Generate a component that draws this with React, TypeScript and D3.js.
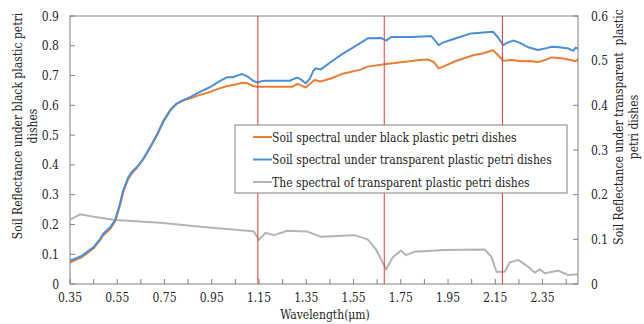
import React from "react";
import * as d3 from "d3";

// Wavelength (µm) sample points and reflectance for each series
const orangeWl = [0.35, 0.4, 0.45, 0.477, 0.49, 0.52, 0.541, 0.56, 0.576, 0.595, 0.612, 0.635, 0.661, 0.69, 0.718, 0.745, 0.775, 0.8, 0.83, 0.86, 0.9, 0.944, 0.98, 1.015, 1.05, 1.079, 1.1, 1.125, 1.143, 1.2, 1.29, 1.313, 1.33, 1.348, 1.37, 1.385, 1.41, 1.454, 1.5, 1.58, 1.61, 1.688, 1.75, 1.83, 1.865, 1.89, 1.91, 1.93, 1.98, 2.06, 2.1, 2.14, 2.16, 2.183, 2.22, 2.26, 2.3, 2.33, 2.36, 2.388, 2.43, 2.47, 2.49, 2.5];
const orangeVal = [0.072, 0.09, 0.12, 0.147, 0.163, 0.185, 0.21, 0.26, 0.31, 0.35, 0.372, 0.392, 0.42, 0.46, 0.502, 0.548, 0.586, 0.605, 0.617, 0.624, 0.635, 0.645, 0.656, 0.665, 0.67, 0.676, 0.674, 0.665, 0.662, 0.662, 0.662, 0.672, 0.666, 0.66, 0.675, 0.685, 0.68, 0.69, 0.705, 0.72, 0.73, 0.739, 0.745, 0.752, 0.754, 0.745, 0.724, 0.73, 0.748, 0.769, 0.775, 0.785, 0.77, 0.75, 0.752, 0.748, 0.749, 0.745, 0.752, 0.761, 0.758, 0.752, 0.748, 0.755];

// Soil under transparent dishes (secondary axis, 0–0.6)
const blueWl = [0.35, 0.4, 0.45, 0.477, 0.49, 0.52, 0.541, 0.56, 0.576, 0.595, 0.612, 0.635, 0.661, 0.69, 0.718, 0.745, 0.775, 0.8, 0.817, 0.86, 0.9, 0.944, 0.98, 1.015, 1.04, 1.06, 1.079, 1.1, 1.125, 1.143, 1.16, 1.18, 1.28, 1.3, 1.313, 1.33, 1.348, 1.365, 1.38, 1.39, 1.41, 1.454, 1.5, 1.58, 1.61, 1.666, 1.688, 1.71, 1.8, 1.879, 1.895, 1.91, 1.93, 1.955, 2.0, 2.048, 2.1, 2.14, 2.16, 2.183, 2.2, 2.225, 2.25, 2.29, 2.33, 2.36, 2.388, 2.42, 2.46, 2.48, 2.49, 2.5];
const blueVal = [0.052, 0.063, 0.083, 0.1, 0.112, 0.127, 0.143, 0.177, 0.211, 0.237, 0.251, 0.263, 0.281, 0.307, 0.333, 0.363, 0.389, 0.403, 0.408, 0.419, 0.43, 0.441, 0.453, 0.463, 0.463, 0.467, 0.47, 0.465, 0.455, 0.451, 0.454, 0.455, 0.455, 0.46, 0.462, 0.457, 0.449, 0.46, 0.477, 0.483, 0.48, 0.497, 0.514, 0.54, 0.55, 0.551, 0.545, 0.553, 0.553, 0.555, 0.545, 0.535, 0.541, 0.545, 0.553, 0.561, 0.563, 0.565, 0.553, 0.535, 0.54, 0.545, 0.541, 0.53, 0.524, 0.527, 0.531, 0.53, 0.527, 0.522, 0.529, 0.527];

// Transparent petri dish spectrum (primary axis)
const grayWl = [0.35, 0.392, 0.45, 0.541, 0.732, 0.902, 1.1, 1.128, 1.15, 1.178, 1.213, 1.27, 1.355, 1.41, 1.553, 1.61, 1.645, 1.688, 1.716, 1.751, 1.772, 1.808, 1.935, 2.105, 2.133, 2.155, 2.19, 2.211, 2.247, 2.289, 2.317, 2.338, 2.36, 2.417, 2.459, 2.5];
const grayVal = [0.215, 0.234, 0.226, 0.215, 0.206, 0.192, 0.179, 0.176, 0.148, 0.172, 0.164, 0.179, 0.176, 0.159, 0.164, 0.15, 0.116, 0.049, 0.09, 0.112, 0.097, 0.108, 0.114, 0.116, 0.092, 0.041, 0.041, 0.072, 0.081, 0.058, 0.038, 0.049, 0.036, 0.045, 0.03, 0.033];

// Absorption marker wavelengths
const markerWl = [1.145, 1.68, 2.18];

const xTickLabels = [0.35, 0.55, 0.75, 0.95, 1.15, 1.35, 1.55, 1.75, 1.95, 2.15, 2.35];
const xMinorTicks = d3.range(0, 22).map((i) => +(0.35 + i * 0.1).toFixed(2));
const leftTicks = [0, 0.1, 0.2, 0.3, 0.4, 0.5, 0.6, 0.7, 0.8, 0.9];
const rightTicks = [0, 0.1, 0.2, 0.3, 0.4, 0.5, 0.6];

const legendItems = [
  { label: "Soil spectral under black plastic petri dishes", color: "#ED7D31" },
  { label: "Soil spectral under transparent plastic petri dishes", color: "#4A90D9" },
  { label: "The spectral of transparent plastic petri dishes", color: "#B4B4B4" },
];

const W = 644;
const H = 324;
const plot = { left: 70, right: 578, top: 16, bottom: 284 };
const FONT = "'DejaVu Serif Condensed', 'DejaVu Serif', serif";
const AXIS = "#808080";
const TXT = { fontFamily: FONT, fontStretch: "condensed", fontSize: "12px", fill: "#262626" };

export default function App() {
  const x = d3.scaleLinear().domain([0.35, 2.5]).range([plot.left, plot.right]);
  const yL = d3.scaleLinear().domain([0, 0.9]).range([plot.bottom, plot.top]);
  const yR = d3.scaleLinear().domain([0, 0.6]).range([plot.bottom, plot.top]);

  const mk = (wl: number[], val: number[], y: d3.ScaleLinear<number, number>) =>
    d3
      .line<number>()
      .x((_, i) => x(wl[i]))
      .y((v) => y(v))(val) as string;

  const orangePath = mk(orangeWl, orangeVal, yL);
  const bluePath = mk(blueWl, blueVal, yR);
  const grayPath = mk(grayWl, grayVal, yL);

  const legend = { x: 235, y: 125, w: 332, h: 68 };

  return (
    <svg
      width={W}
      height={H}
      style={{ position: "absolute", left: 0, top: 0, display: "block", background: "#fff", fontFamily: FONT }}
    >
      {/* frame */}
      <rect
        x={plot.left}
        y={plot.top}
        width={plot.right - plot.left}
        height={plot.bottom - plot.top}
        fill="none"
        stroke={AXIS}
        strokeWidth={1}
      />

      {/* inward ticks */}
      {xMinorTicks.map((t) => (
        <line key={"xt" + t} x1={x(t)} x2={x(t)} y1={plot.bottom} y2={plot.bottom - 5} stroke={AXIS} />
      ))}
      {leftTicks.map((t) => (
        <line key={"lt" + t} x1={plot.left} x2={plot.left + 5} y1={yL(t)} y2={yL(t)} stroke={AXIS} />
      ))}
      {rightTicks.map((t) => (
        <line key={"rt" + t} x1={plot.right - 5} x2={plot.right} y1={yR(t)} y2={yR(t)} stroke={AXIS} />
      ))}

      {/* tick labels */}
      {xTickLabels.map((t) => (
        <text key={"xl" + t} x={x(t)} y={302} textAnchor="middle" style={TXT}>
          {t.toFixed(2)}
        </text>
      ))}
      {leftTicks.map((t) => (
        <text key={"ll" + t} x={59} y={yL(t) + 4.5} textAnchor="end" style={TXT}>
          {t === 0 ? "0" : t.toFixed(1)}
        </text>
      ))}
      {rightTicks.map((t) => (
        <text key={"rl" + t} x={591} y={yR(t) + 4.5} textAnchor="start" style={TXT}>
          {t === 0 ? "0" : t.toFixed(1)}
        </text>
      ))}

      {/* axis titles */}
      <text x={325} y={319} textAnchor="middle" style={TXT}>
        Wavelength(μm)
      </text>
      <g transform="translate(22,126) rotate(-90)">
        <text x={0} y={0} textAnchor="middle" style={TXT}>
          Soil Reflectance under black plastic petri
        </text>
        <text x={0} y={15} textAnchor="middle" style={TXT}>
          dishes
        </text>
      </g>
      <g transform="translate(623,127) rotate(-90)">
        <text x={0} y={0} textAnchor="middle" style={{ ...TXT, whiteSpace: "pre" }}>
          {"Soil Reflectance under transparent  plastic"}
        </text>
        <text x={0} y={15} textAnchor="middle" style={TXT}>
          petri dishes
        </text>
      </g>

      {/* series */}
      <path d={grayPath} fill="none" stroke="#B4B4B4" strokeWidth={2} strokeLinejoin="round" />
      <path d={orangePath} fill="none" stroke="#ED7D31" strokeWidth={2} strokeLinejoin="round" />
      <path d={bluePath} fill="none" stroke="#4A90D9" strokeWidth={2} strokeLinejoin="round" />

      {/* marker lines */}
      {markerWl.map((m) => (
        <line key={"m" + m} x1={x(m)} x2={x(m)} y1={plot.top} y2={plot.bottom} stroke="#E03C3C" strokeWidth={1} />
      ))}

      {/* legend */}
      <rect x={legend.x} y={legend.y} width={legend.w} height={legend.h} fill="#fff" stroke={AXIS} strokeWidth={1} />
      {legendItems.map((it, i) => {
        const cy = legend.y + 12 + i * 22.5;
        return (
          <g key={it.label}>
            <line x1={253} x2={272} y1={cy} y2={cy} stroke={it.color} strokeWidth={2} />
            <text x={272} y={cy + 4.5} style={TXT}>
              {it.label}
            </text>
          </g>
        );
      })}
    </svg>
  );
}
